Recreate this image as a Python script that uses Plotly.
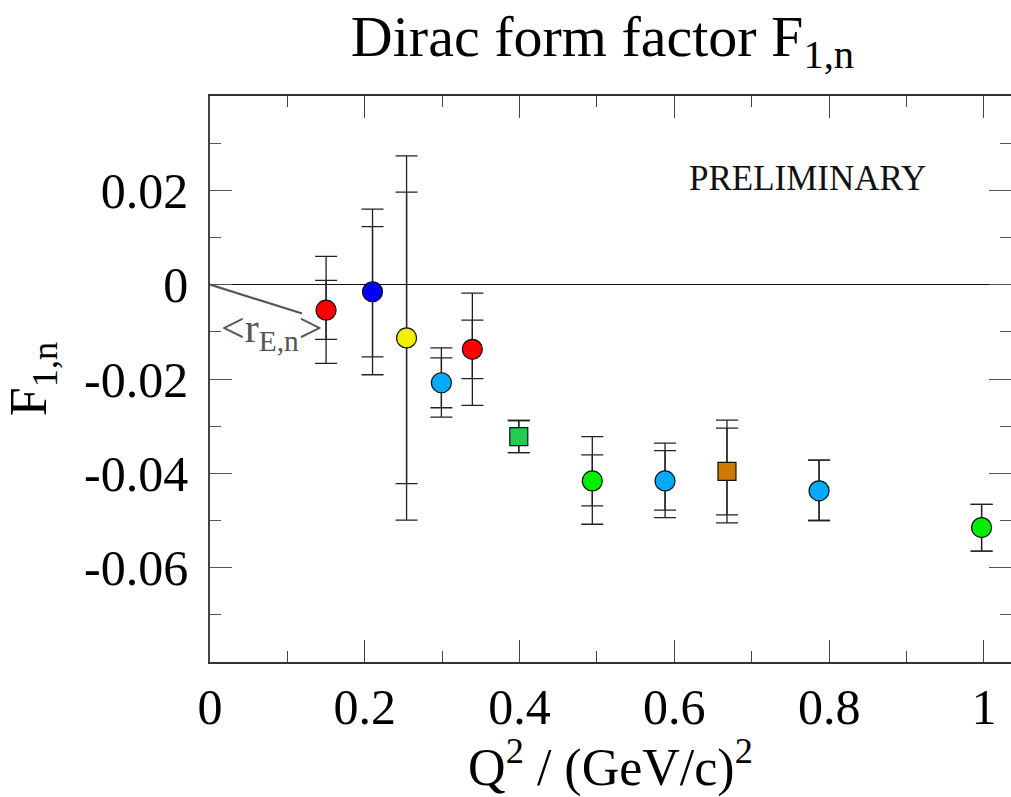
import plotly.graph_objects as go

# ---- data ----
q2 = [0.150, 0.210, 0.254, 0.299, 0.339, 0.399, 0.494, 0.588, 0.668, 0.787, 0.997]
f1n = [-0.0054, -0.0015, -0.0113, -0.0208, -0.0137, -0.0322, -0.0416, -0.0416, -0.0396, -0.0437, -0.0515]
stat_plus = [0.0063, 0.0138, 0.0309, 0.0053, 0.0062, 0.0034, 0.0055, 0.0064, 0.0092, 0.0065, 0.0049]
stat_minus = [0.0062, 0.0138, 0.0309, 0.0053, 0.0062, 0.0034, 0.0053, 0.0062, 0.0092, 0.0063, 0.0050]
tot_plus = [0.0114, 0.0175, 0.0386, 0.0074, 0.0119, 0.0034, 0.0094, 0.0080, 0.0109, 0.0065, 0.0049]
tot_minus = [0.0113, 0.0176, 0.0386, 0.0073, 0.0119, 0.0034, 0.0092, 0.0078, 0.0109, 0.0063, 0.0050]
colors = ["#ff0000", "#0000ff", "#f2ee00", "#00aaff", "#ff0000", "#22cc55",
          "#00ee00", "#00aaff", "#cc7a00", "#00aaff", "#00ee00"]
symbols = ["circle", "circle", "circle", "circle", "circle", "square",
           "circle", "circle", "square", "circle", "circle"]
sizes = [20, 20, 20, 20, 20, 18, 20, 20, 18, 20, 20]

# slope line for the electric charge radius <r_E,n>
re_x = [0.0, 0.119]
re_y = [0.0, -0.0061]

xticks = [0, 0.2, 0.4, 0.6, 0.8, 1.0]
xticklabels = ["0", "0.2", "0.4", "0.6", "0.8", "1"]
yticks = [-0.06, -0.04, -0.02, 0, 0.02]
yticklabels = ["-0.06", "-0.04", "-0.02", "0", "0.02"]

FONT = "Liberation Serif"

fig = go.Figure()

# slope line
fig.add_trace(go.Scatter(x=re_x, y=re_y, mode="lines",
                         line=dict(color="#555555", width=2.2),
                         hoverinfo="skip"))

# total (outer) error bars
fig.add_trace(go.Scatter(
    x=q2, y=f1n, mode="markers",
    marker=dict(size=1, color="rgba(0,0,0,0)"),
    error_y=dict(type="data", symmetric=False, array=tot_plus, arrayminus=tot_minus,
                 color="#222222", thickness=1.3, width=11),
))
# statistical (inner) error bars
fig.add_trace(go.Scatter(
    x=q2, y=f1n, mode="markers",
    marker=dict(size=1, color="rgba(0,0,0,0)"),
    error_y=dict(type="data", symmetric=False, array=stat_plus, arrayminus=stat_minus,
                 color="#222222", thickness=1.3, width=11),
))
# markers
fig.add_trace(go.Scatter(
    x=q2, y=f1n, mode="markers",
    marker=dict(size=sizes, color=colors, symbol=symbols, opacity=1,
                line=dict(color="#111111", width=1.2)),
))

fig.add_annotation(x=0.7726, y=0.0226, xref="x", yref="y", text="PRELIMINARY",
                   showarrow=False, font=dict(family=FONT, size=35, color="#111111"))
fig.add_annotation(x=0.080, y=-0.0098, xref="x", yref="y",
                   text="&lt;r<sub>E,n</sub>&gt;",
                   showarrow=False, font=dict(family=FONT, size=42, color="#555555"))

fig.update_layout(
    width=1011, height=797,
    margin=dict(l=210, r=0, t=96, b=135, autoexpand=False),
    paper_bgcolor="white", plot_bgcolor="white",
    showlegend=False,
    font=dict(family=FONT, color="black"),
    title=dict(text="Dirac form factor F<sub>1,n</sub>", x=0.49, xref="paper",
               y=0.955, yref="container", yanchor="middle", xanchor="center",
               font=dict(family=FONT, size=58, color="black")),
)

fig.update_xaxes(
    range=[0, 1.035], tickvals=xticks, ticktext=xticklabels,
    tickfont=dict(family=FONT, size=50, color="black"),
    ticks="inside", ticklen=22, tickwidth=1.2, tickcolor="#444444",
    minor=dict(dtick=0.1, tick0=0, ticks="inside", ticklen=11, tickwidth=1.2, tickcolor="#444444"),
    showline=True, linecolor="#333333", linewidth=1.6, mirror="allticks",
    showgrid=False, zeroline=False, automargin=False,
    ticklabelstandoff=0,
    title=dict(text="Q<sup>2</sup> / (GeV/c)<sup>2</sup>",
               font=dict(family=FONT, size=52, color="black"), standoff=0),
)
fig.update_yaxes(
    range=[-0.08, 0.04], tickvals=yticks, ticktext=yticklabels,
    tickfont=dict(family=FONT, size=50, color="black"),
    ticks="inside", ticklen=22, tickwidth=1.2, tickcolor="#555555",
    minor=dict(dtick=0.01, tick0=0, ticks="inside", ticklen=11, tickwidth=1.2, tickcolor="#555555"),
    showline=True, linecolor="#444444", linewidth=1.6, mirror="allticks",
    showgrid=False, zeroline=True, zerolinecolor="#111111", zerolinewidth=1.3,
    automargin=False,
    ticklabelstandoff=10,
    title=dict(text="F<sub>1,n</sub>",
               font=dict(family=FONT, size=52, color="black"), standoff=37),
)

fig.write_html(
    "out.html",
    config={"displayModeBar": False},
    post_script="document.body.style.margin='0';"
                "document.documentElement.style.overflow='hidden';"
                "document.body.style.overflow='hidden';",
)
